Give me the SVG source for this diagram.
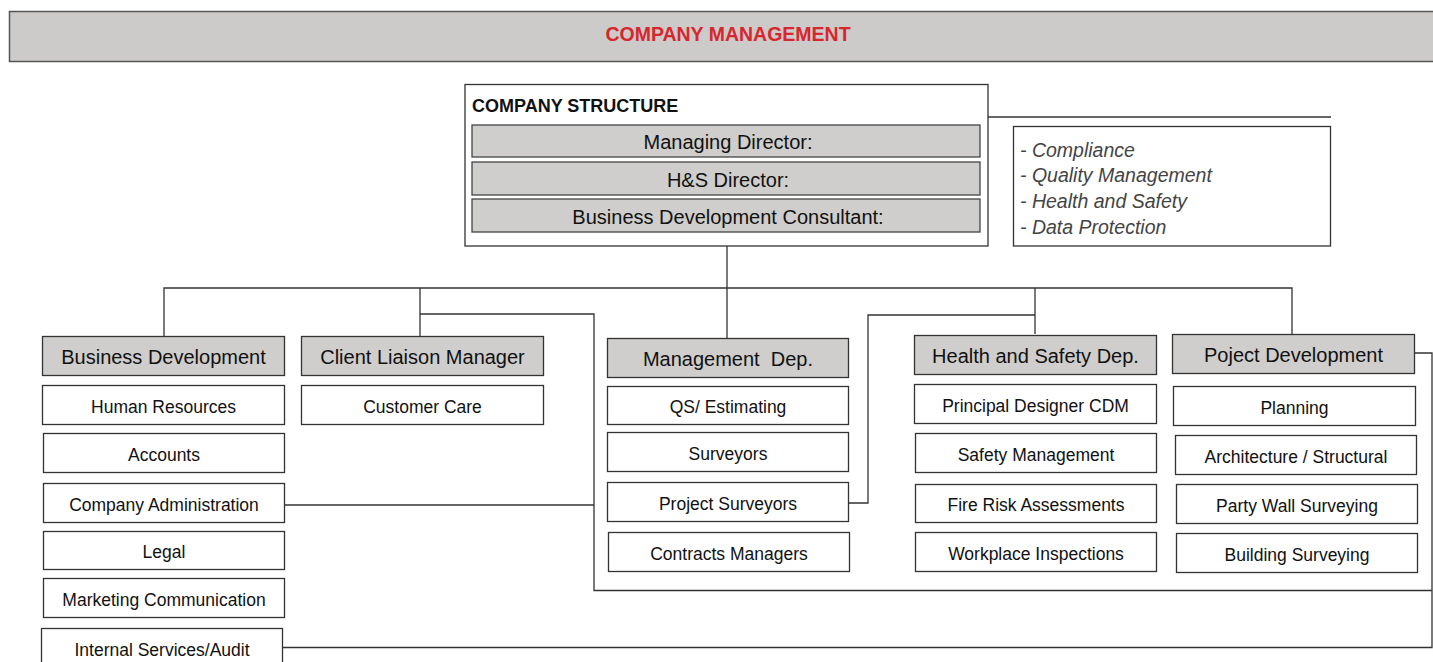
<svg xmlns="http://www.w3.org/2000/svg" width="1433" height="662" viewBox="0 0 1433 662">
  <style>
    text { font-family: "Liberation Sans", Arial, sans-serif; fill: #111; text-anchor: middle; }
    .banner { fill: #cccbc9; stroke: #555; stroke-width: 1.5; }
    .banner-title { font-size: 19.5px; font-weight: bold; fill: #d8262e; }
    .frame { fill: #fff; stroke: #333; stroke-width: 1.3; }
    .role { fill: #cfcecc; stroke: #444; stroke-width: 1.3; }
    .head { fill: #cfcecc; stroke: #333; stroke-width: 1.3; }
    .item { fill: #fff; stroke: #333; stroke-width: 1.3; }
    .head-text { font-size: 20px; }
    .item-text { font-size: 17.5px; }
    .role-text { font-size: 20px; }
    .struct-title { font-size: 18px; font-weight: bold; text-anchor: start; }
    .note { font-size: 19.5px; font-style: italic; fill: #444; text-anchor: start; }
    .link { fill: none; stroke: #333; stroke-width: 1.3; }
  </style>

  <!-- top banner -->
  <g id="banner">
    <rect class="banner" x="9.5" y="11.5" width="1432" height="50"/>
    <text class="banner-title" x="728" y="41">COMPANY MANAGEMENT</text>
  </g>

  <!-- connectors -->
  <g id="connectors">
    <path class="link" d="M727 246 V338"/>
    <path class="link" d="M164 336 V288 H1292 V335"/>
    <path class="link" d="M420 288 V336"/>
    <path class="link" d="M1035 288 V334"/>
    <path class="link" d="M420 314 H594 V590.5 H1432"/>
    <path class="link" d="M285 505 H594"/>
    <path class="link" d="M849 503 H868 V315 H1035"/>
    <path class="link" d="M1414 353 H1432 V647.5 H283"/>
    <path class="link" d="M988 117 H1331"/>
  </g>

  <!-- company structure -->
  <g id="company-structure">
    <rect class="frame" x="465" y="84.5" width="523" height="161.5"/>
    <text class="struct-title" x="472" y="112">COMPANY STRUCTURE</text>
    <rect class="role" x="472" y="125" width="508" height="32"/>
    <text class="role-text" x="728" y="149">Managing Director:</text>
    <rect class="role" x="472" y="162" width="508" height="33"/>
    <text class="role-text" x="728" y="187">H&amp;S Director:</text>
    <rect class="role" x="472" y="199" width="508" height="33"/>
    <text class="role-text" x="728" y="224">Business Development Consultant:</text>
  </g>

  <!-- compliance notes -->
  <g id="compliance">
    <rect class="frame" x="1013.5" y="126.5" width="317" height="119.5"/>
    <text class="note" x="1020" y="157">- Compliance</text>
    <text class="note" x="1020" y="182">- Quality Management</text>
    <text class="note" x="1020" y="208">- Health and Safety</text>
    <text class="note" x="1020" y="234">- Data Protection</text>
  </g>

  <!-- business development -->
  <g id="business-development">
    <rect class="head" x="42.5" y="336.5" width="242" height="39"/>
    <text class="head-text" x="163.5" y="364">Business Development</text>
  </g>
  <g id="human-resources">
    <rect class="item" x="42.5" y="385.5" width="242" height="39"/>
    <text class="item-text" x="163.5" y="413">Human Resources</text>
  </g>
  <g id="accounts">
    <rect class="item" x="43.5" y="433.5" width="241" height="39"/>
    <text class="item-text" x="164" y="461">Accounts</text>
  </g>
  <g id="company-administration">
    <rect class="item" x="43.5" y="483.5" width="241" height="39"/>
    <text class="item-text" x="164" y="511">Company Administration</text>
  </g>
  <g id="legal">
    <rect class="item" x="43.5" y="531.5" width="241" height="38"/>
    <text class="item-text" x="164" y="558">Legal</text>
  </g>
  <g id="marketing-communication">
    <rect class="item" x="43.5" y="578.5" width="241" height="39"/>
    <text class="item-text" x="164" y="606">Marketing Communication</text>
  </g>
  <g id="internal-services">
    <rect class="item" x="41.5" y="628.5" width="241" height="40"/>
    <text class="item-text" x="162" y="656">Internal Services/Audit</text>
  </g>

  <!-- client liaison -->
  <g id="client-liaison-manager">
    <rect class="head" x="301.5" y="336.5" width="242" height="39"/>
    <text class="head-text" x="422.5" y="364">Client Liaison Manager</text>
  </g>
  <g id="customer-care">
    <rect class="item" x="301.5" y="385.5" width="242" height="39"/>
    <text class="item-text" x="422.5" y="413">Customer Care</text>
  </g>

  <!-- management department -->
  <g id="management-dep">
    <rect class="head" x="607.5" y="338.5" width="241" height="39"/>
    <text class="head-text" x="728" y="366" xml:space="preserve">Management  Dep.</text>
  </g>
  <g id="qs-estimating">
    <rect class="item" x="607.5" y="386.5" width="241" height="38"/>
    <text class="item-text" x="728" y="413">QS/ Estimating</text>
  </g>
  <g id="surveyors">
    <rect class="item" x="607.5" y="432.5" width="241" height="39"/>
    <text class="item-text" x="728" y="460">Surveyors</text>
  </g>
  <g id="project-surveyors">
    <rect class="item" x="607.5" y="482.5" width="241" height="39"/>
    <text class="item-text" x="728" y="510">Project Surveyors</text>
  </g>
  <g id="contracts-managers">
    <rect class="item" x="608.5" y="532.5" width="241" height="39"/>
    <text class="item-text" x="729" y="560">Contracts Managers</text>
  </g>

  <!-- health and safety department -->
  <g id="health-safety-dep">
    <rect class="head" x="914.5" y="335.5" width="242" height="39"/>
    <text class="head-text" x="1035.5" y="363">Health and Safety Dep.</text>
  </g>
  <g id="principal-designer">
    <rect class="item" x="914.5" y="384.5" width="242" height="39"/>
    <text class="item-text" x="1035.5" y="412">Principal Designer CDM</text>
  </g>
  <g id="safety-management">
    <rect class="item" x="915.5" y="433.5" width="241" height="39"/>
    <text class="item-text" x="1036" y="461">Safety Management</text>
  </g>
  <g id="fire-risk">
    <rect class="item" x="915.5" y="484.5" width="241" height="38"/>
    <text class="item-text" x="1036" y="511">Fire Risk Assessments</text>
  </g>
  <g id="workplace-inspections">
    <rect class="item" x="915.5" y="532.5" width="241" height="39"/>
    <text class="item-text" x="1036" y="560">Workplace Inspections</text>
  </g>

  <!-- project development -->
  <g id="project-development">
    <rect class="head" x="1172.5" y="334.5" width="242" height="39"/>
    <text class="head-text" x="1293.5" y="362">Poject Development</text>
  </g>
  <g id="planning">
    <rect class="item" x="1173.5" y="386.5" width="242" height="39"/>
    <text class="item-text" x="1294.5" y="414">Planning</text>
  </g>
  <g id="architecture-structural">
    <rect class="item" x="1175.5" y="435.5" width="241" height="39"/>
    <text class="item-text" x="1296" y="463">Architecture / Structural</text>
  </g>
  <g id="party-wall">
    <rect class="item" x="1176.5" y="484.5" width="241" height="39"/>
    <text class="item-text" x="1297" y="512">Party Wall Surveying</text>
  </g>
  <g id="building-surveying">
    <rect class="item" x="1176.5" y="533.5" width="241" height="39"/>
    <text class="item-text" x="1297" y="561">Building Surveying</text>
  </g>
</svg>
